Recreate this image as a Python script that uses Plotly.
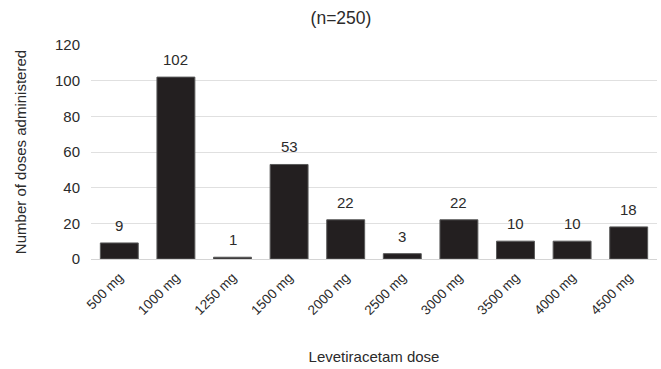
import plotly.graph_objects as go

doses = ["500 mg", "1000 mg", "1250 mg", "1500 mg", "2000 mg",
         "2500 mg", "3000 mg", "3500 mg", "4000 mg", "4500 mg"]
counts = [9, 102, 1, 53, 22, 3, 22, 10, 10, 18]

FONT = "Liberation Sans, Arial, sans-serif"
TEXT = "#2b2b2b"

fig = go.Figure(
    go.Bar(
        x=doses,
        y=counts,
        marker=dict(color="#231f20", line=dict(color="#5a5a5a", width=1)),
    )
)

# value labels sitting a little above each bar
for dose, n in zip(doses, counts):
    fig.add_annotation(
        x=dose, y=n, text=str(n),
        showarrow=False, yanchor="bottom", yshift=7,
        font=dict(family=FONT, size=15, color=TEXT),
    )

fig.update_layout(
    width=661,
    height=369,
    margin=dict(l=91, r=4, t=45, b=110),
    paper_bgcolor="white",
    plot_bgcolor="white",
    bargap=0.33,
    showlegend=False,
    font=dict(family=FONT, size=15, color=TEXT),
    title=dict(
        text="(n=250)",
        x=341 / 661,
        xanchor="center",
        y=1 - 18 / 369,
        yanchor="middle",
        font=dict(family=FONT, size=17.5, color=TEXT),
    ),
    xaxis=dict(
        tickangle=-45,
        showline=False,
        showgrid=False,
        ticks="",
        ticklabelstandoff=7,
        tickfont=dict(family=FONT, size=13.5, color=TEXT),
        title=dict(text="Levetiracetam dose", standoff=34,
                   font=dict(family=FONT, size=15, color=TEXT)),
    ),
    yaxis=dict(
        range=[0, 120],
        dtick=20,
        showgrid=True,
        gridcolor="#e0e0e0",
        gridwidth=1,
        zeroline=True,
        zerolinecolor="#d4d4d4",
        zerolinewidth=1,
        showline=False,
        ticks="",
        ticklabelstandoff=10,
        tickfont=dict(family=FONT, size=15, color=TEXT),
        title=dict(text="Number of doses administered", standoff=24,
                   font=dict(family=FONT, size=15, color=TEXT)),
    ),
)

fig.write_html("out.html")
